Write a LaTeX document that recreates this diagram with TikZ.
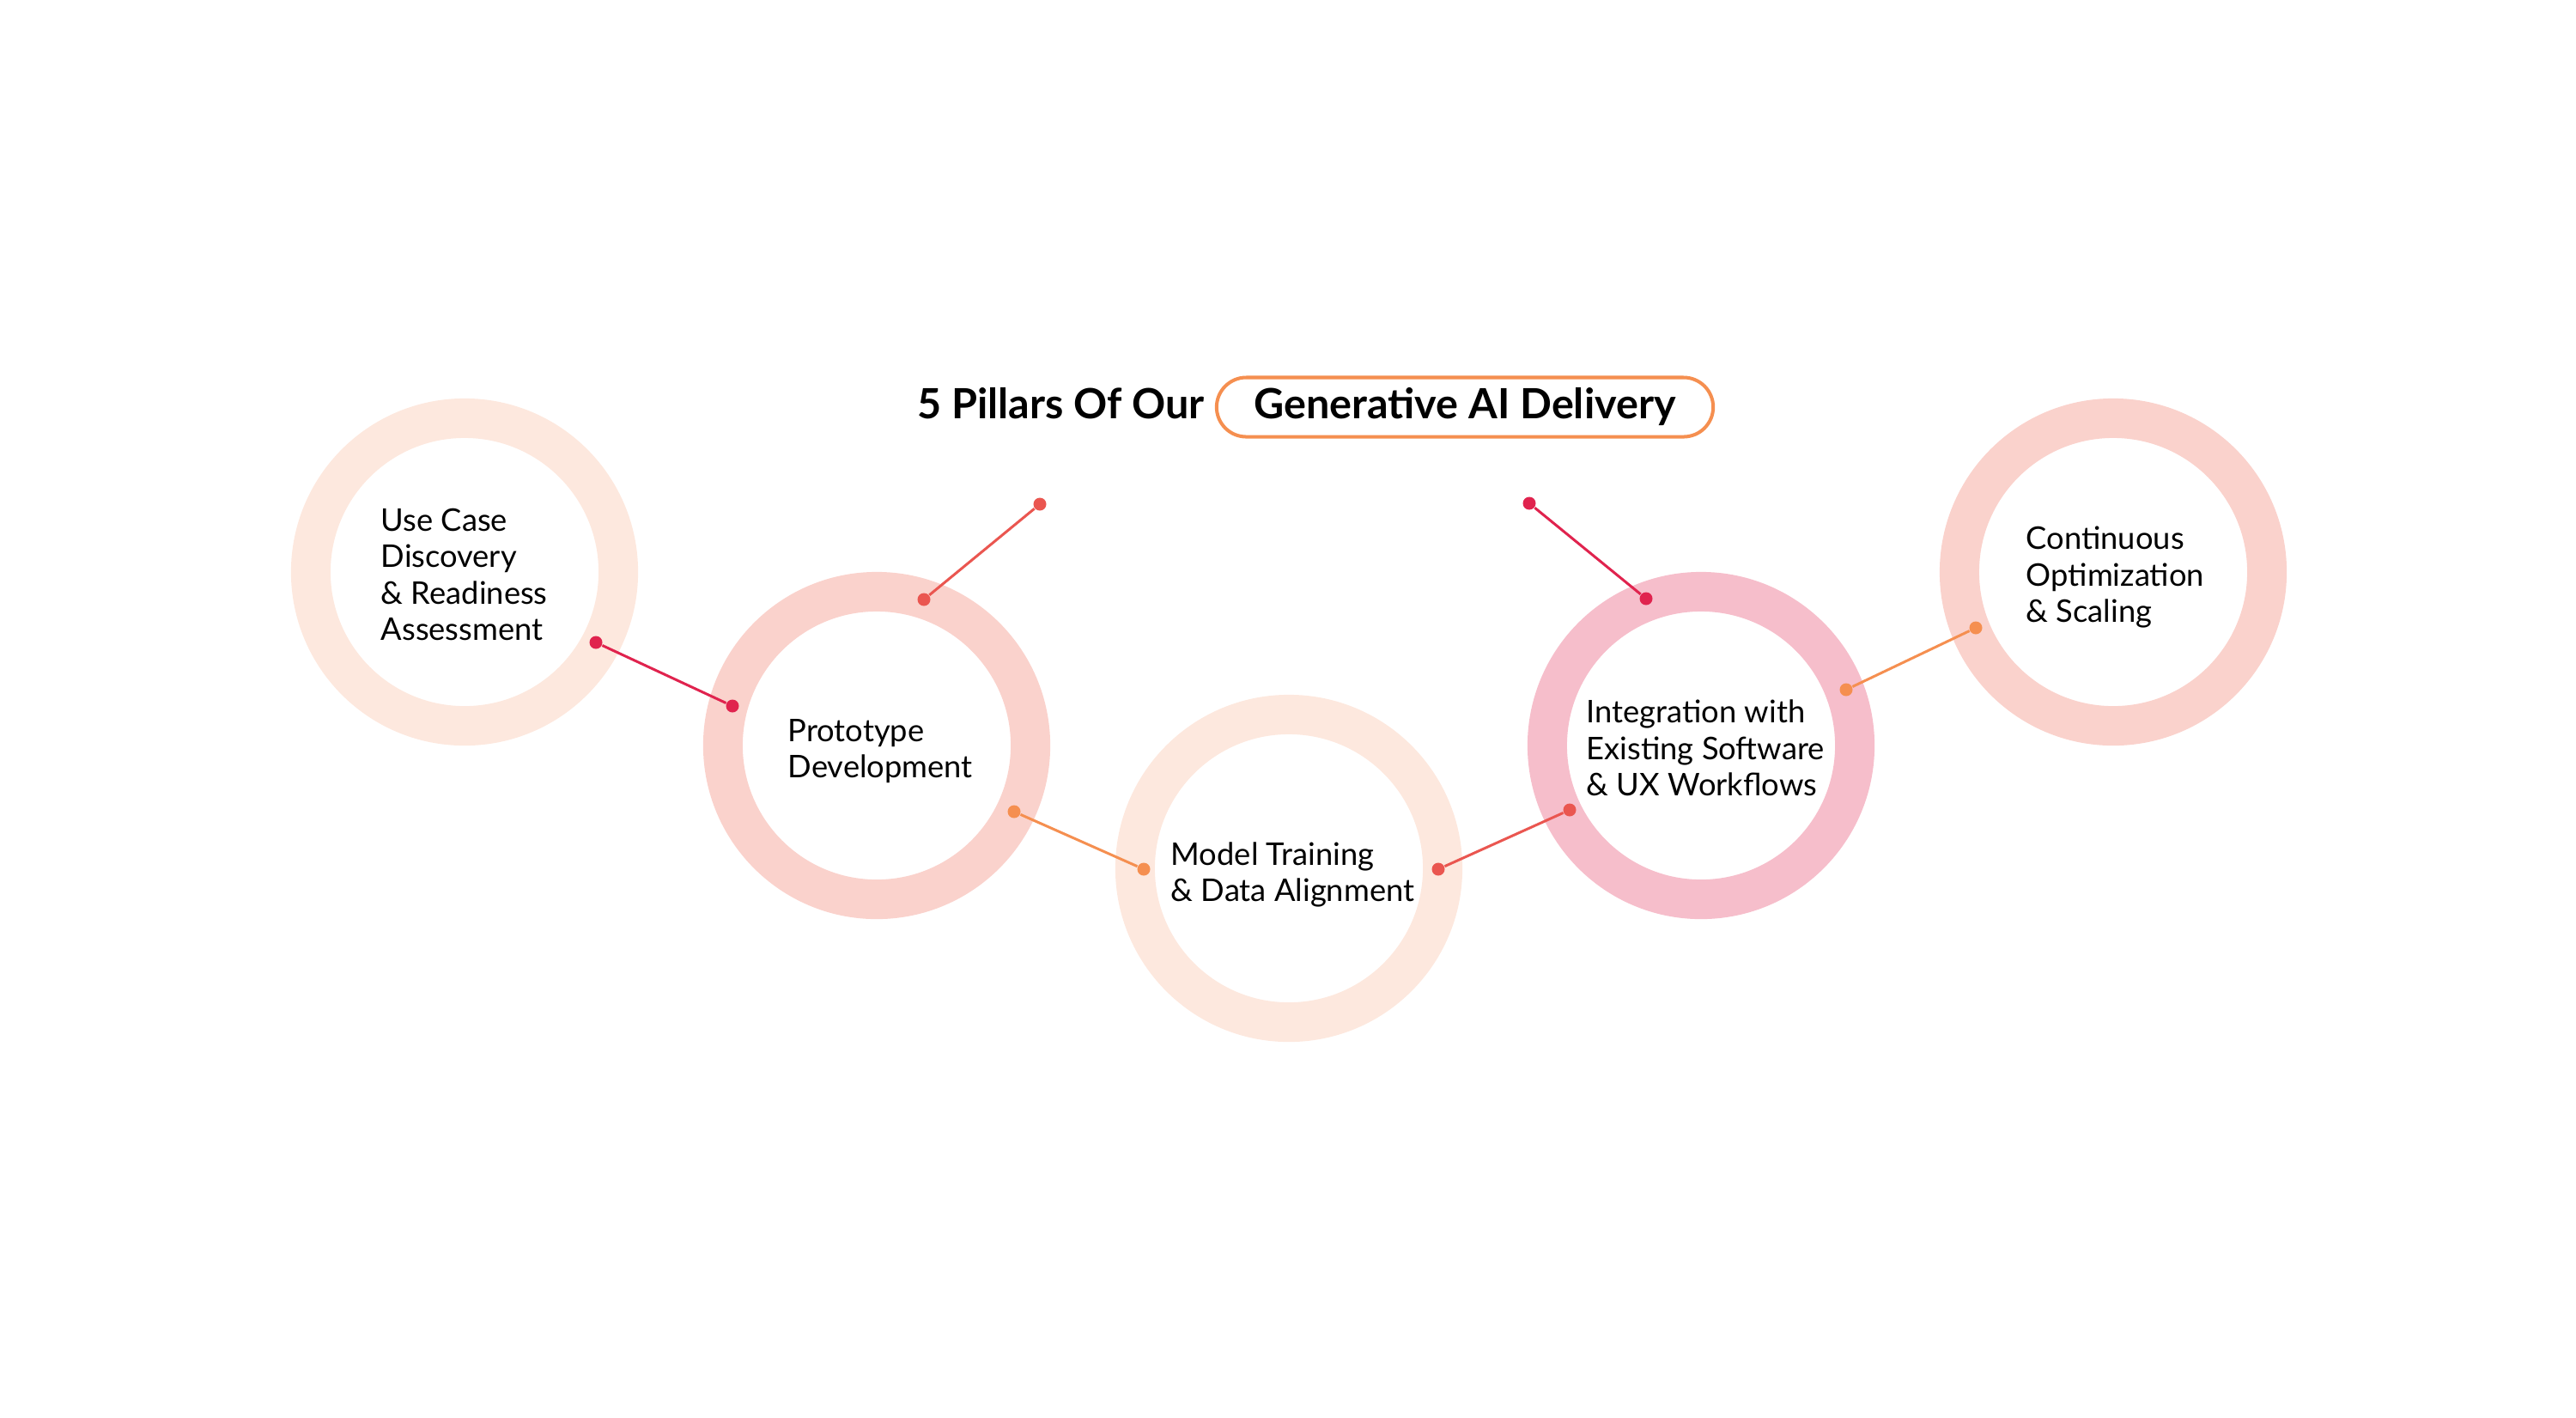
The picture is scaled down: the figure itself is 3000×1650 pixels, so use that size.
\documentclass[tikz,border=0pt]{standalone}
\usepackage{fontspec}
\setmainfont{Lato}
\usetikzlibrary{positioning}

\definecolor{peach}{HTML}{FDE8DE}
\definecolor{salmon}{HTML}{FAD2CC}
\definecolor{rosepink}{HTML}{F6BECB}
\definecolor{crimson}{HTML}{E0234E}
\definecolor{coral}{HTML}{EA5650}
\definecolor{tangerine}{HTML}{F58F50}

\begin{document}
\begin{tikzpicture}[x=0.01cm,y=-0.01cm,
  ring/.style={circle,draw=#1,line width=0.46cm,minimum size=3.58cm,inner sep=0pt},
  pillartext/.style={anchor=base west,align=left,inner sep=0pt,
    font=\fontsize{10.33pt}{11.95pt}\selectfont},
  titletext/.style={inner sep=0pt,outer sep=0pt,font=\fontsize{13.8pt}{16pt}\selectfont\bfseries},
  joint/.style={circle,fill=#1,inner sep=0pt,minimum size=0.15cm},
  wire/.style={draw=#1,line width=0.03cm}]
\useasboundingbox (0,0) rectangle (3000,1650);

% the five rings
\foreach \name/\x/\y/\col in {c1/541/666/peach,c2/1021/868/salmon,c3/1501/1011/peach,c4/1981/868/rosepink,c5/2461/666/salmon}
\node[ring=\col] (\name) at (\x,\y) {};

% title
\node[titletext,draw=tangerine,line width=0.04cm,rounded corners=0.345cm,minimum width=5.78cm,
  minimum height=0.69cm] (box) at (1706,474) {Generative AI Delivery};
\node[titletext,base left=0.14cm of box] (title) {5 Pillars Of Our};

% texts (placed at the baseline of the last line)
\node[pillartext] (t1) at (443,745) {Use Case\\Discovery\\\& Readiness\\Assessment};
\node[pillartext] (t2) at (917,905) {Prototype\\Development};
\node[pillartext] (t3) at (1363,1049) {Model Training\\\& Data Alignment};
\node[pillartext] (t4) at (1847,926) {Integration with\\Existing Software\\\& UX Workflows};
\node[pillartext] (t5) at (2359,724) {Continuous\\Optimization\\\& Scaling};

% dots and links
\foreach \a/\ax/\ay/\b/\bx/\by/\col in {a1/694/748/b1/853/822/crimson,a2/1076/698/b2/1211/587/coral,a3/1181/945/b3/1332/1012/tangerine,a4/1675/1012/b4/1828/943/coral,a5/1917/697/b5/1781/586/crimson,a6/2150/803/b6/2301/731/tangerine}
{
\node[joint=\col] (\a) at (\ax,\ay) {};
\node[joint=\col] (\b) at (\bx,\by) {};
\draw[wire=\col] (\a) -- (\b);
}
\end{tikzpicture}
\end{document}
